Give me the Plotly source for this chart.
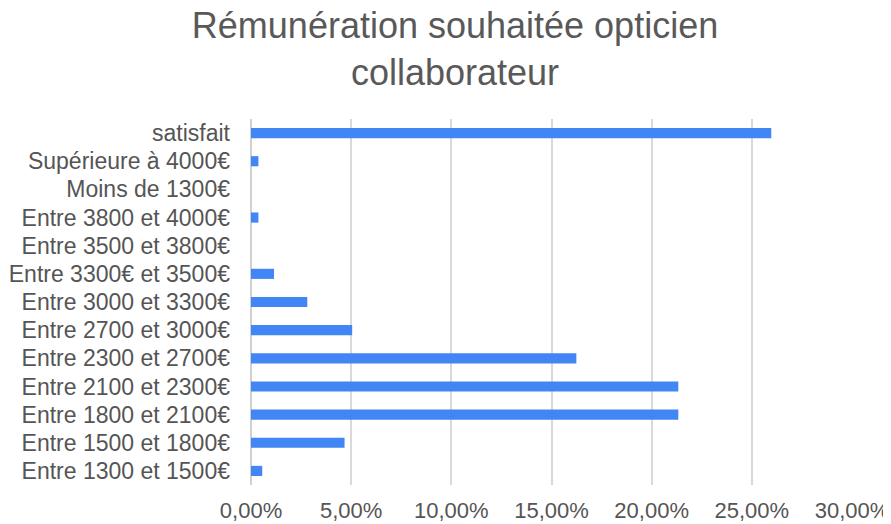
import plotly.graph_objects as go

categories = [
    "satisfait",
    "Supérieure à 4000€",
    "Moins de 1300€",
    "Entre 3800 et 4000€",
    "Entre 3500 et 3800€",
    "Entre 3300€ et 3500€",
    "Entre 3000 et 3300€",
    "Entre 2700 et 3000€",
    "Entre 2300 et 2700€",
    "Entre 2100 et 2300€",
    "Entre 1800 et 2100€",
    "Entre 1500 et 1800€",
    "Entre 1300 et 1500€",
]
values = [0.2597, 0.0037, 0.0, 0.0037, 0.0, 0.0115, 0.0281, 0.0505,
          0.1624, 0.2133, 0.2133, 0.0467, 0.0056]
tick_vals = [0, 0.05, 0.10, 0.15, 0.20, 0.25, 0.30]

# page body has an 8px margin, so the figure is sized/offset accordingly
W, H = 883, 516

fig = go.Figure(go.Bar(
    y=categories, x=values, orientation="h",
    marker=dict(color="#4285F4", line=dict(width=0)),
))

fig.update_layout(
    width=W, height=H,
    margin=dict(l=243, r=39, t=111, b=39, autoexpand=False),
    paper_bgcolor="white", plot_bgcolor="white",
    separators=", ",
    bargap=0.64,
    showlegend=False,
    font=dict(family="Liberation Sans, Arial, sans-serif", color="#555555"),
    title=dict(
        text="Rémunération souhaitée opticien<br>collaborateur",
        x=447 / W, xref="container", xanchor="center",
        y=1 - 30 / H, yref="container", yanchor="middle",
        font=dict(size=36, color="#595959"),
    ),
)

fig.update_xaxes(
    range=[0, 0.30], tickvals=tick_vals, tickformat=".2%",
    showgrid=True, gridcolor="#d9d9d9", gridwidth=2,
    zeroline=True, zerolinecolor="#d0d0d0", zerolinewidth=2,
    showline=False, ticks="", automargin=False,
    ticklabelstandoff=10,
    tickfont=dict(size=22, color="#555555"),
    fixedrange=True,
)
fig.update_yaxes(
    autorange="reversed", showgrid=False, showline=False, ticks="",
    automargin=False, ticklabelstandoff=20,
    tickfont=dict(size=23, color="#555555"),
)

fig.write_html("out.html")
